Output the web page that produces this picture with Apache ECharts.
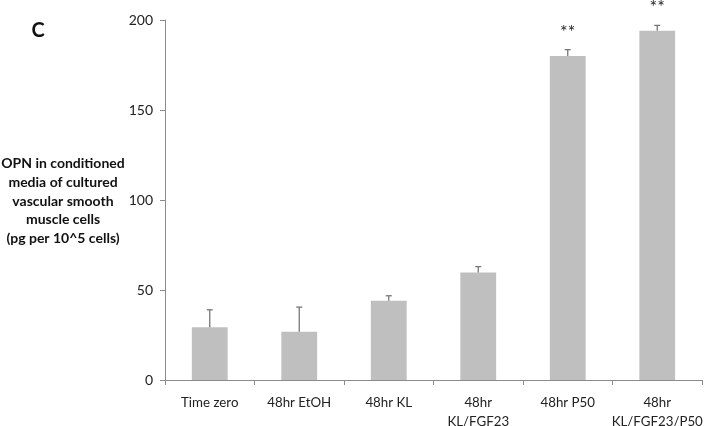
<!DOCTYPE html>
<html><head><meta charset="utf-8">
<script src="https://cdn.jsdelivr.net/npm/echarts@6/dist/echarts.min.js"></script>
<style>html,body{margin:0;padding:0;background:#fff;overflow:hidden}#c{width:704px;height:426px}</style>
</head><body><div id="c"></div>
<script>
var categories = ['Time zero', '48hr EtOH', '48hr KL', '48hr\nKL/FGF23', '48hr P50', '48hr\nKL/FGF23/P50'];
var means = [29.3, 26.8, 44, 59.7, 180, 194];
var errorTops = [39, 40.5, 46.8, 63, 183.5, 197];
var significance = ['', '', '', '', '**', '**'];
var yTicks = [0, 50, 100, 150, 200];

var chart = echarts.init(document.getElementById('c'), null, {renderer: 'canvas'});
var font = 'Lato, "Open Sans", sans-serif';
var errData = categories.map(function (c, i) { return [i, means[i], errorTops[i], significance[i]]; });

chart.setOption({
  animation: false,
  grid: {left: 165, right: 2, top: 20, bottom: 46, containLabel: false, outerBoundsMode: 'none'},
  xAxis: {
    type: 'category', data: categories,
    axisLine: {lineStyle: {color: '#8c8c8c', width: 1}},
    axisTick: {show: true, length: 5, lineStyle: {color: '#8c8c8c'}},
    axisLabel: {color: '#222', fontFamily: font, fontSize: 13.3, margin: 13, lineHeight: 19, interval: 0}
  },
  yAxis: {
    type: 'value', min: yTicks[0], max: yTicks[yTicks.length - 1], interval: 50,
    splitLine: {show: false},
    axisLine: {show: true, lineStyle: {color: '#8c8c8c', width: 1}},
    axisTick: {show: true, length: 5, lineStyle: {color: '#8c8c8c'}},
    axisLabel: {color: '#222', fontFamily: font, fontSize: 14, margin: 12}
  },
  graphic: [
    {type: 'text', x: 38, y: 31, style: {text: 'C', font: 'bold 20px ' + font, fill: '#111', align: 'center', verticalAlign: 'middle'}},
    {type: 'text', x: 63, y: 201, style: {
      text: 'OPN in conditioned\nmedia of cultured\nvascular smooth\nmuscle cells\n(pg per 10^5 cells)',
      font: 'bold 14px ' + font, fill: '#111', align: 'center', verticalAlign: 'middle', lineHeight: 18.7}}
  ],
  series: [
    {type: 'bar', data: means, barWidth: '40%', itemStyle: {color: '#bfbfbf'}, z: 2},
    {type: 'custom', data: errData, z: 3,
     renderItem: function (params, api) {
       var x = api.value(0);
       var p0 = api.coord([x, api.value(1)]);
       var p1 = api.coord([x, api.value(2)]);
       var half = 3;
       var children = [
         {type: 'line', shape: {x1: p0[0], y1: p0[1], x2: p1[0], y2: p1[1]}, style: {stroke: '#777', lineWidth: 1.3}},
         {type: 'line', shape: {x1: p1[0] - half, y1: p1[1], x2: p1[0] + half, y2: p1[1]}, style: {stroke: '#777', lineWidth: 1.3}}
       ];
       var sig = api.value(3);
       if (sig) {
         children.push({type: 'text', x: p1[0], y: p1[1] - 18, style: {text: sig, font: '18px ' + font, fill: '#222', align: 'center', verticalAlign: 'middle'}});
       }
       return {type: 'group', children: children};
     },
     encode: {x: 0, y: 2}
    }
  ]
});
</script></body></html>
